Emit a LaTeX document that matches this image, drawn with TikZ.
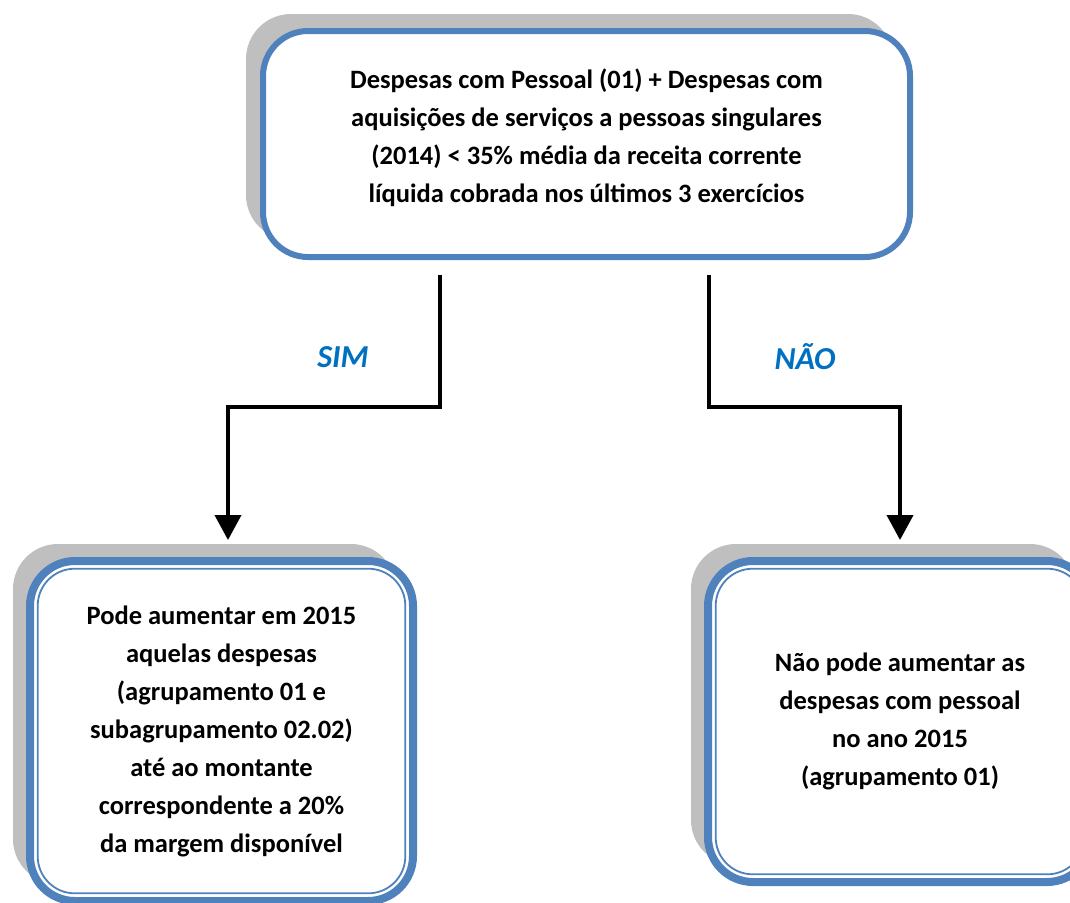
\documentclass[tikz,border=0pt]{standalone}
\usepackage{fontspec}
\setmainfont{Carlito}
\usetikzlibrary{arrows.meta,shadows}
\definecolor{boxblue}{HTML}{4F81BD}
\definecolor{lblblue}{HTML}{0070C0}
\definecolor{shadowgray}{HTML}{BFBFBF}
\begin{document}
\begin{tikzpicture}[x=1pt,y=-1pt,
    box/.style={draw=boxblue,fill=white,rounded corners=45pt,align=center,
        font=\fontsize{26.5}{38}\selectfont\bfseries,inner sep=0pt,
        drop shadow={shadow xshift=-17pt,shadow yshift=17pt,fill=shadowgray,opacity=1}},
    thinline/.style={draw=boxblue,line width=1.8pt,rounded corners=37pt},
    flow/.style={line width=4pt,-{Triangle[width=26pt,length=25pt]}},
    lbl/.style={text=lblblue,font=\fontsize{32}{36}\selectfont\bfseries\itshape}]
    \useasboundingbox (0,0) rectangle (1070,902);

    \node[box,line width=6pt,minimum width=647pt,minimum height=226pt,text depth=16pt] (cond) at (586.5,144)
    {Despesas com Pessoal (01) + Despesas com\\aquisições de serviços a pessoas singulares\\
     (2014) < 35\% média da receita corrente\\líquida cobrada nos últimos 3 exercícios};

    \node[box,line width=8pt,minimum width=383pt,minimum height=340pt] (yes) at (221.5,731)
    {Pode aumentar em 2015\\aquelas despesas\\(agrupamento 01 e\\subagrupamento 02.02)\\
     até ao montante\\correspondente a 20\%\\da margem disponível};
    \node[box,line width=8pt,minimum width=384pt,minimum height=321pt] (no) at (900,721.5)
    {Não pode aumentar as\\despesas com pessoal\\no ano 2015\\(agrupamento 01)};

    % inner outline of the double borders
    \draw[thinline] (yes.north west) ++(11.7,11.7) rectangle ([shift={(-11.7,-11.7)}]yes.south east);
    \draw[thinline] (no.north west) ++(11.7,11.7) rectangle ([shift={(-11.7,-11.7)}]no.south east);

    \draw[flow,shorten >=17pt] ([shift={(-146.5,15)}]cond.south) -- ++(0,132)
    -| ([xshift=6.5pt]yes.north);
    \draw[flow,shorten >=17pt] ([shift={(122.5,15)}]cond.south) -- ++(0,132)
    -| (no.north);

    \node[lbl] (sim) at (343,357) {SIM};
    \node[lbl] (nao) at (805,357) {NÃO};
  \end{tikzpicture}
\end{document}
